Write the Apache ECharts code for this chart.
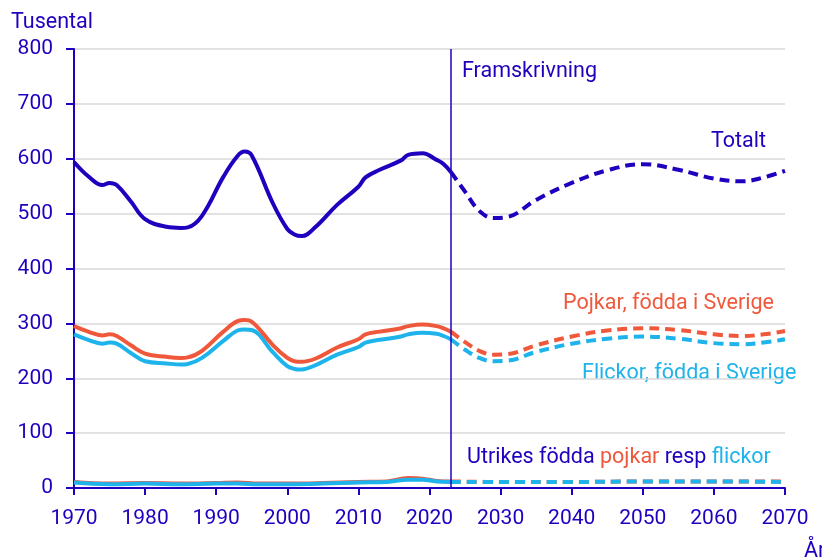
<!DOCTYPE html>
<html><head><meta charset="utf-8">
<script src="https://cdn.jsdelivr.net/npm/echarts@6/dist/echarts.min.js"></script>
<style>html,body{margin:0;padding:0;background:#fff}#c{width:822px;height:559px}</style>
</head><body><div id="c"></div>
<script>
const DARK = '#1E00BE', RED = '#F0583C', LIGHT = '#1EB4EB';
const xTicks = [1970,1980,1990,2000,2010,2020,2030,2040,2050,2060,2070];
const yTicks = [0,100,200,300,400,500,600,700,800];

const histYears = [1970,1972,1974,1975,1976,1978,1980,1983,1985,1986,1988,1991,1993,1994,1995,1998,2000,2001,2002,2004,2007,2010,2011,2013,2016,2017,2019,2021,2022,2023];
const totaltHist = [594,568,552,556,552,522,490,476,474,475,496,567,605,613,606,518,472,462,459,476,516,549,566,580,597,607,610,598,590,576];
const pojkarHist = [295,285,278,280,277,260,245,239,237,238,250,285,304,306,303,260,237,231,230,236,256,271,280,285,291,295,298,295,291,285];
const flickorHist = [280,270,263,265,263,246,231,227,225,226,237,268,287,289,288,247,222,217,216,224,243,257,265,270,276,280,283,281,277,271];

const fcYears = [2023,2025,2027,2029,2031,2035,2040,2045,2050,2055,2060,2064,2067,2070];
const totaltFc = [576,540,505,492,494,525,556,579,590,580,564,559,566,578];
const pojkarFc = [285,266,250,243,244,260,276,287,291,288,280,277,280,286];
const flickorFc = [271,252,237,231,232,248,263,272,276,272,264,262,265,271];

const utrYears = [1970,1975,1980,1985,1990,1993,1996,2000,2005,2010,2014,2017,2019,2021,2023];
const utrPojkarHist = [11,8,9,8,9,10,8,8,9,11,12,18,17,13,12];
const utrFlickorHist = [10,7,8,7,8,8,7,7,8,10,11,15,15,12,11];
const utrFcYears = [2023,2030,2040,2050,2060,2070];
const utrPojkarFc = [12,11,11,12,12,12];
const utrFlickorFc = [11,11,11,12,12,11];

const forecastStart = 2023;

const pairs = (xs, ys) => xs.map((x, i) => [x, ys[i]]);
function line(name, xs, ys, color, dashed) {
  return {
    name, type: 'line', data: pairs(xs, ys), smooth: 0.4,
    symbol: 'none', silent: true,
    lineStyle: { color, width: 4, type: dashed ? [10, 6] : 'solid', cap: 'butt', join: 'round' }
  };
}

const F = '21.5px Roboto';
const chart = echarts.init(document.getElementById('c'), null, { renderer: 'canvas' });
chart.setOption({
  animation: false,
  backgroundColor: '#fff',
  grid: { left: 74, right: 37, top: 49, bottom: 71, containLabel: false },
  xAxis: {
    type: 'value', min: 1970, max: 2070, interval: 10,
    axisLine: { show: true, lineStyle: { color: DARK, width: 2 } },
    axisTick: { show: true, length: 7, lineStyle: { color: DARK, width: 2 } },
    axisLabel: { color: DARK, fontSize: 21, fontFamily: 'Roboto', margin: 20,
      formatter: v => xTicks.includes(v) ? String(v) : '' },
    splitLine: { show: false }
  },
  yAxis: {
    type: 'value', min: 0, max: 800, interval: 100,
    axisLine: { show: true, lineStyle: { color: DARK, width: 2 } },
    axisTick: { show: true, length: 8, lineStyle: { color: DARK, width: 2 } },
    axisLabel: { color: DARK, fontSize: 21, fontFamily: 'Roboto', margin: 21,
      formatter: v => yTicks.includes(v) ? String(v) : '' },
    splitLine: { show: true, lineStyle: { color: '#d9d9d9', width: 1.5 } }
  },
  series: [
    line('Utrikes pojkar', utrYears, utrPojkarHist, RED, false),
    line('Utrikes pojkar fc', utrFcYears, utrPojkarFc, RED, true),
    line('Utrikes flickor', utrYears, utrFlickorHist, LIGHT, false),
    line('Utrikes flickor fc', utrFcYears, utrFlickorFc, LIGHT, true),
    line('Flickor', histYears, flickorHist, LIGHT, false),
    line('Flickor fc', fcYears, flickorFc, LIGHT, true),
    line('Pojkar', histYears, pojkarHist, RED, false),
    line('Pojkar fc', fcYears, pojkarFc, RED, true),
    Object.assign(line('Totalt', histYears, totaltHist, DARK, false), {
      markLine: { silent: true, symbol: 'none', label: { show: false },
        lineStyle: { color: DARK, width: 1.5, type: 'solid' },
        data: [{ xAxis: forecastStart }] }
    }),
    line('Totalt fc', fcYears, totaltFc, DARK, true)
  ],
  graphic: [
    { type: 'text', left: 11, top: 12, style: { text: 'Tusental', fill: DARK, font: F } },
    { type: 'text', left: 462, top: 61, style: { text: 'Framskrivning', fill: DARK, font: F } },
    { type: 'text', left: 711, top: 131, style: { text: 'Totalt', fill: DARK, font: F } },
    { type: 'text', left: 563, top: 293, style: { text: 'Pojkar, födda i Sverige', fill: RED, font: F } },
    { type: 'text', left: 582, top: 363, style: { text: 'Flickor, födda i Sverige', fill: LIGHT, font: F } },
    { type: 'text', left: 467, top: 447, style: {
      text: '{d|Utrikes födda }{r|pojkar}{d| resp }{l|flickor}',
      font: F,
      rich: { d: { fill: DARK, font: F }, r: { fill: RED, font: F }, l: { fill: LIGHT, font: F } }
    } },
    { type: 'text', left: 804, top: 541, style: { text: 'År', fill: DARK, font: F } }
  ]
});
</script></body></html>
